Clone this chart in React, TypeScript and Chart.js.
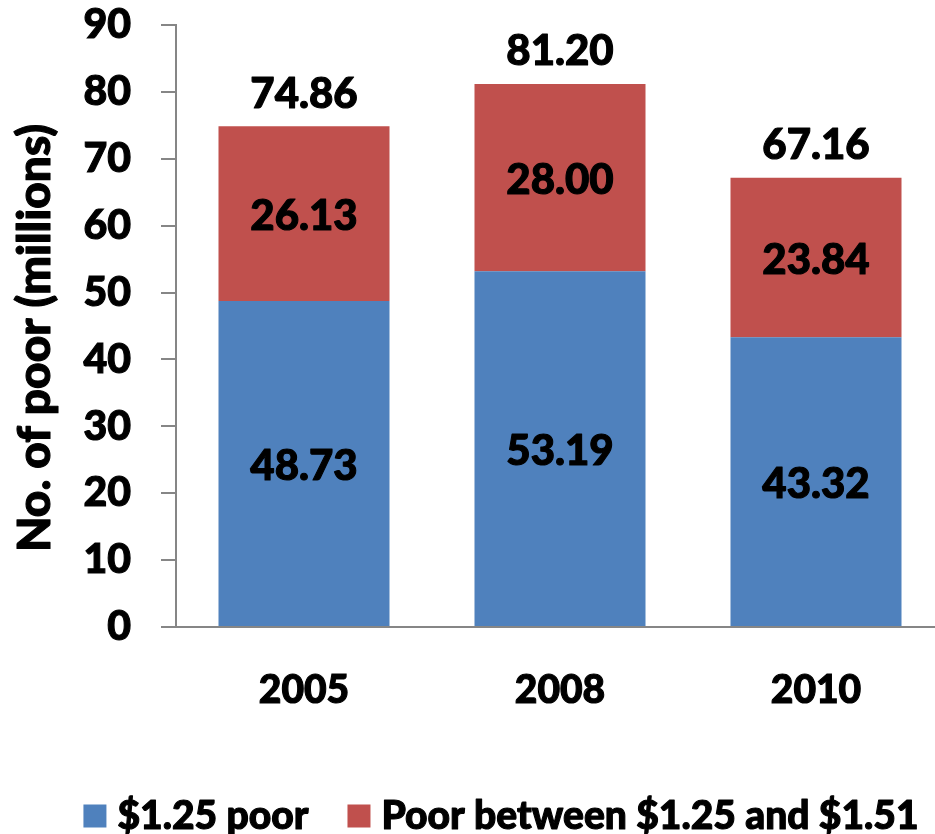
import React, { useEffect, useRef } from 'react';
import { Chart, registerables } from 'chart.js';

Chart.register(...registerables);

// Chart data
const years = ['2005', '2008', '2010'];
const poorBelow125 = [48.73, 53.19, 43.32];
const poorBetween = [26.13, 28.0, 23.84];
const columnTotals = [74.86, 81.2, 67.16];
const seriesNames = ['$1.25 poor', 'Poor between $1.25 and $1.51'];
const yAxisTitle = 'No. of poor (millions)';
const yMin = 0;
const yMax = 90;
const yStep = 10;

const BLUE = '#4F81BD';
const RED = '#C0504D';
const AXIS = '#868686';
const FONT = 'Lato, "Open Sans", sans-serif';
const WEIGHT = '900';
const STROKE = 1.1; // extra outline to give the text a heavier weight

// Fill text with a thin outline of the same colour
function heavyText(ctx: CanvasRenderingContext2D, text: string, x: number, y: number) {
  ctx.lineWidth = STROKE;
  ctx.lineJoin = 'round';
  ctx.strokeStyle = '#000';
  ctx.strokeText(text, x, y);
  ctx.fillText(text, x, y);
}

// Value labels inside each segment plus the column total above each stack
const valueLabels = {
  id: 'valueLabels',
  afterDatasetsDraw(chart: any) {
    const ctx = chart.ctx;
    ctx.save();
    ctx.fillStyle = '#000';
    ctx.textAlign = 'center';
    ctx.textBaseline = 'middle';
    ctx.font = `${WEIGHT} 42px ${FONT}`;
    const n = chart.data.datasets.length;
    chart.data.datasets.forEach((ds: any, i: number) => {
      const meta = chart.getDatasetMeta(i);
      meta.data.forEach((bar: any, j: number) => {
        const v = ds.data[j] as number;
        heavyText(ctx, v.toFixed(2), bar.x, (bar.y + bar.base) / 2 + 3);
      });
    });
    const topMeta = chart.getDatasetMeta(n - 1);
    topMeta.data.forEach((bar: any, j: number) => {
      heavyText(ctx, columnTotals[j].toFixed(2), bar.x, bar.y - 32);
    });
    ctx.restore();
  },
};

// Rotated y-axis title
const axisTitle = {
  id: 'axisTitle',
  afterDraw(chart: any) {
    const ctx = chart.ctx;
    ctx.save();
    ctx.translate(35, 338);
    ctx.rotate(-Math.PI / 2);
    ctx.fillStyle = '#000';
    ctx.textAlign = 'center';
    ctx.textBaseline = 'middle';
    ctx.font = `${WEIGHT} 46px ${FONT}`;
    heavyText(ctx, yAxisTitle, 0, 0);
    ctx.restore();
  },
};

// Legend row along the bottom
const bottomLegend = {
  id: 'bottomLegend',
  afterDraw(chart: any) {
    const ctx = chart.ctx;
    ctx.save();
    ctx.font = `${WEIGHT} 39px ${FONT}`;
    ctx.textBaseline = 'middle';
    ctx.textAlign = 'left';
    const box = 23;
    const gap = 11;
    const itemGap = 39;
    const items = chart.data.datasets.map((ds: any) => ({
      label: ds.label as string,
      color: ds.backgroundColor as string,
      w: ctx.measureText(ds.label).width,
    }));
    const total =
      items.reduce((s: number, it: any) => s + box + gap + it.w, 0) + itemGap * (items.length - 1);
    let x = 501 - total / 2;
    const cy = 816;
    items.forEach((it: any) => {
      ctx.fillStyle = it.color;
      ctx.fillRect(x, cy - box / 2, box, box);
      x += box + gap;
      ctx.fillStyle = '#000';
      heavyText(ctx, it.label, x, cy);
      x += it.w + itemGap;
    });
    ctx.restore();
  },
};

export default function App() {
  const ref = useRef<HTMLCanvasElement>(null);

  useEffect(() => {
    if (!ref.current) return;
    const yTickFont = { family: FONT, size: 41, weight: WEIGHT as any };
    const xTickFont = { family: FONT, size: 39, weight: WEIGHT as any };
    const chart = new Chart(ref.current, {
      type: 'bar',
      data: {
        labels: years,
        datasets: [
          {
            label: seriesNames[0],
            data: poorBelow125,
            backgroundColor: BLUE,
            categoryPercentage: 1,
            barPercentage: 0.668,
          },
          {
            label: seriesNames[1],
            data: poorBetween,
            backgroundColor: RED,
            categoryPercentage: 1,
            barPercentage: 0.668,
          },
        ],
      },
      options: {
        responsive: false,
        animation: false,
        layout: { padding: { top: 25, left: 0, right: 6, bottom: 87 } },
        plugins: {
          legend: { display: false },
          tooltip: { enabled: false },
        },
        scales: {
          x: {
            stacked: true,
            grid: { display: true, drawOnChartArea: false, drawTicks: false },
            border: { display: true, color: AXIS, width: 2 },
            ticks: {
              color: '#000',
              font: xTickFont,
              padding: 40,
              textStrokeColor: '#000',
              textStrokeWidth: STROKE,
            },
            afterFit: (s: any) => {
              s.height = 120;
              s.paddingLeft = 0;
              s.paddingRight = 0;
            },
          },
          y: {
            stacked: true,
            min: yMin,
            max: yMax,
            ticks: {
              stepSize: yStep,
              color: '#000',
              font: yTickFont,
              padding: 30,
              textStrokeColor: '#000',
              textStrokeWidth: STROKE,
            },
            grid: {
              display: true,
              drawOnChartArea: false,
              drawTicks: true,
              tickLength: 15,
              color: AXIS,
              lineWidth: 2,
            },
            border: { display: true, color: AXIS, width: 2 },
            afterFit: (s: any) => {
              s.width = 176;
              s.paddingTop = 0;
              s.paddingBottom = 0;
            },
          },
        },
      },
      plugins: [valueLabels, axisTitle, bottomLegend],
    });
    return () => chart.destroy();
  }, []);

  return (
    <div
      style={{
        position: 'absolute',
        left: 0,
        top: 0,
        width: 935,
        height: 834,
        overflow: 'hidden',
        background: '#fff',
      }}
    >
      <canvas ref={ref} width={950} height={834} />
    </div>
  );
}
